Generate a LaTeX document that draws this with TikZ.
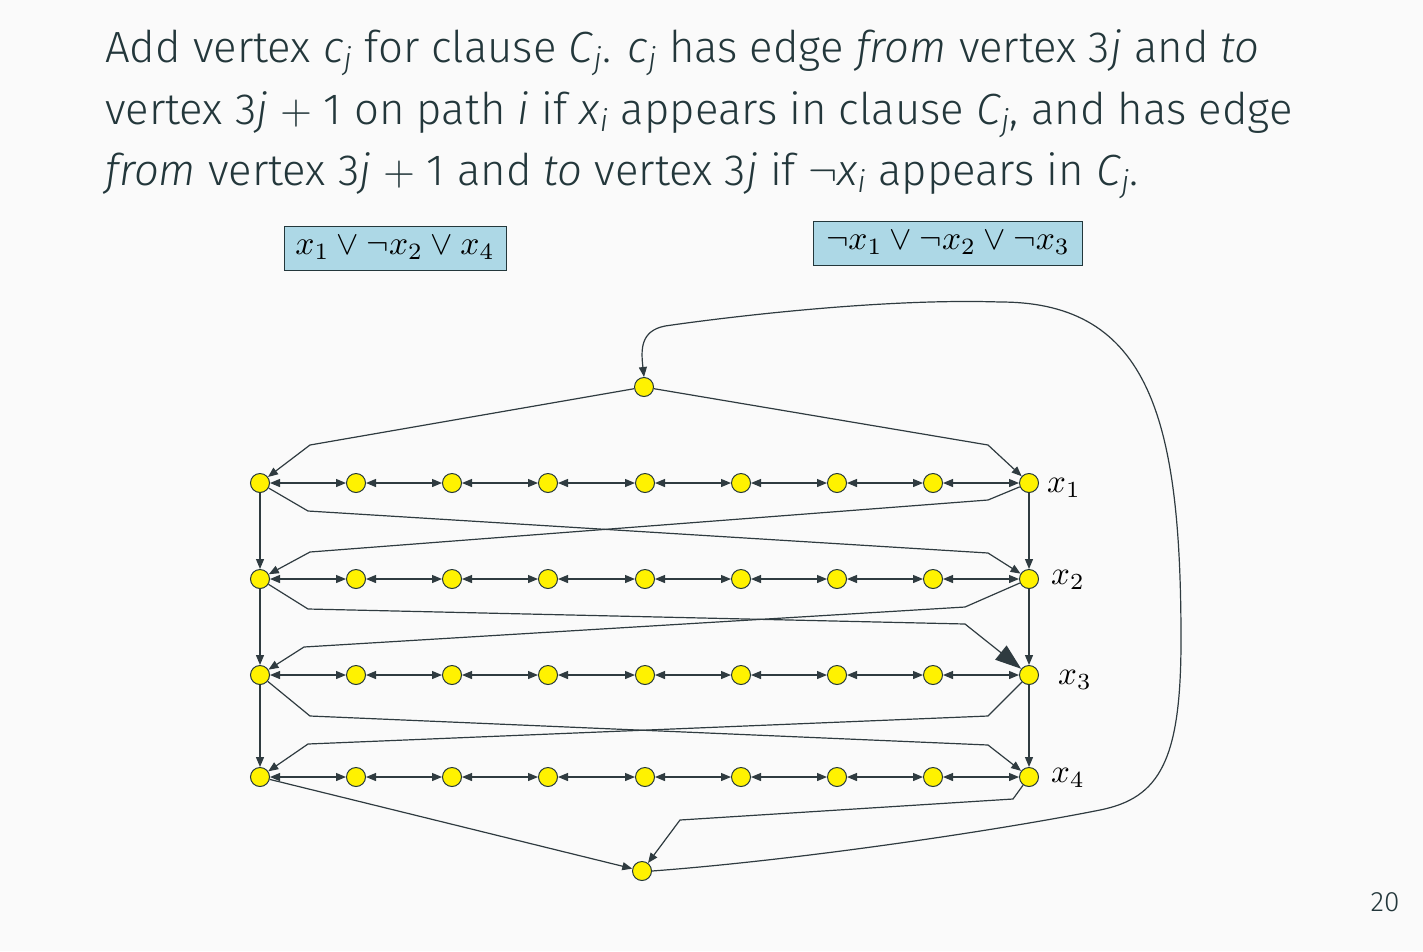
\RequirePackage{fix-cm}
\documentclass[tikz,border=0pt]{standalone}
\usepackage[no-math]{fontspec}
\setmainfont{Fira Sans Light}[ItalicFont={Fira Sans Light Italic}]
\usetikzlibrary{arrows.meta}
\definecolor{bg}{HTML}{FAFAFA}
\definecolor{fg}{HTML}{23373B}
\definecolor{edgec}{HTML}{2F3B40}
\definecolor{clausec}{HTML}{ADD8E6}
\newcommand\mysub[1]{\textsubscript{\textit{#1}}}
\tikzset{
 v/.style={circle, fill=yellow, draw=fg, line width=1pt, minimum size=19pt, inner sep=0pt},
 e/.style={draw=edgec, line width=1.2pt, -{Triangle[length=10pt,width=8pt]}},
 ee/.style={draw=edgec, line width=1.2pt, {Triangle[length=10pt,width=8pt]}-{Triangle[length=10pt,width=8pt]}},
 bigarrow/.style={draw=edgec, line width=1.2pt, -{Triangle[length=26pt,width=18pt]}},
 clausebox/.style={draw=fg, fill=clausec, line width=1pt, inner sep=0pt, minimum height=44pt},
 titleline/.style={anchor=base west, inner sep=0pt, text=fg, font=\fontsize{43.7}{50}\selectfont},
 lab/.style={text=black, anchor=west, inner sep=0pt}
}
\begin{document}
\begin{tikzpicture}[x=1pt,y=-1pt]
\useasboundingbox (0,0) rectangle (1423,951);
\fill[bg] (0,0) rectangle (1423,951);

\node[titleline] (t1) at (105,62) {Add vertex \textit{c}\mysub{j} for clause \textit{C}\mysub{j}. \textit{c}\mysub{j} has edge \textit{from} vertex 3\textit{j} and \textit{to}};
\node[titleline] (t2) at (105,124) {vertex 3\textit{j} $+$ 1 on path \textit{i} if \textit{x}\mysub{i} appears in clause \textit{C}\mysub{j}, and has edge};
\node[titleline] (t3) at (105,185) {\textit{from} vertex 3\textit{j} $+$ 1 and \textit{to} vertex 3\textit{j} if $\neg$\textit{x}\mysub{i} appears in \textit{C}\mysub{j}.};

\node[clausebox, minimum width=222pt] (cl1) at (395,248) {\scalebox{3.35}{$x_1 \vee \neg x_2 \vee x_4$}};
\node[clausebox, minimum width=269pt] (cl2) at (948,243) {\scalebox{3.35}{$\neg x_1 \vee \neg x_2 \vee \neg x_3$}};

\node[v] (top) at (644,387) {};
\node[v] (bot) at (642,871) {};

\foreach \r/\y in {1/483,2/579,3/675,4/777}{
  \foreach \c/\x in {1/260,2/356,3/452,4/548,5/645,6/741,7/837,8/933,9/1029}{
    \node[v] (r\r c\c) at (\x,\y) {};
  }
}

\foreach \r in {1,2,3,4}{
  \foreach \c [evaluate=\c as \n using int(\c+1)] in {1,...,8}{
    \draw[ee] (r\r c\c) -- (r\r c\n);
  }
}
\foreach \r [evaluate=\r as \n using int(\r+1)] in {1,2,3}{
  \draw[e] (r\r c1) -- (r\n c1);
  \draw[e] (r\r c9) -- (r\n c9);
}

\draw[e] (top) -- (310,445) -- (r1c1);
\draw[e] (top) -- (988,445) -- (r1c9);
\draw[e] (r1c1) -- (308,511) -- (988,553) -- (r2c9);
\draw[e] (r1c9) -- (988,500) -- (310,552) -- (r2c1);
\draw[bigarrow] (r2c1) -- (308,609) -- (965,624) -- (r3c9);
\draw[e] (r2c9) -- (965,607) -- (304,647) -- (r3c1);
\draw[e] (r3c1) -- (310,716) -- (988,745) -- (r4c9);
\draw[e] (r3c9) -- (988,716) -- (308,744) -- (r4c1);
\draw[e] (r4c1) -- (bot);
\draw[e] (r4c9) -- (1013,799) -- (680,820) -- (bot);
\draw[e] (bot.east) .. controls (800,860) and (1000,830) .. (1100,810)
  .. controls (1160,798) and (1181,760) .. (1181,640)
  .. controls (1181,420) and (1150,302) .. (1000,302)
  .. controls (880,298) and (720,318) .. (665,326)
  .. controls (640,331) and (641,350) .. (top.north);

\node[lab] (l1) at (1047,488) {\scalebox{3.3}{$x_1$}};
\node[lab] (l2) at (1051,580) {\scalebox{3.3}{$x_2$}};
\node[lab] (l3) at (1058,680) {\scalebox{3.3}{$x_3$}};
\node[lab] (l4) at (1051,778) {\scalebox{3.3}{$x_4$}};

\node[text=fg, font=\fontsize{28}{30}\selectfont, inner sep=0pt] (pg) at (1385,902) {20};
\end{tikzpicture}
\end{document}
